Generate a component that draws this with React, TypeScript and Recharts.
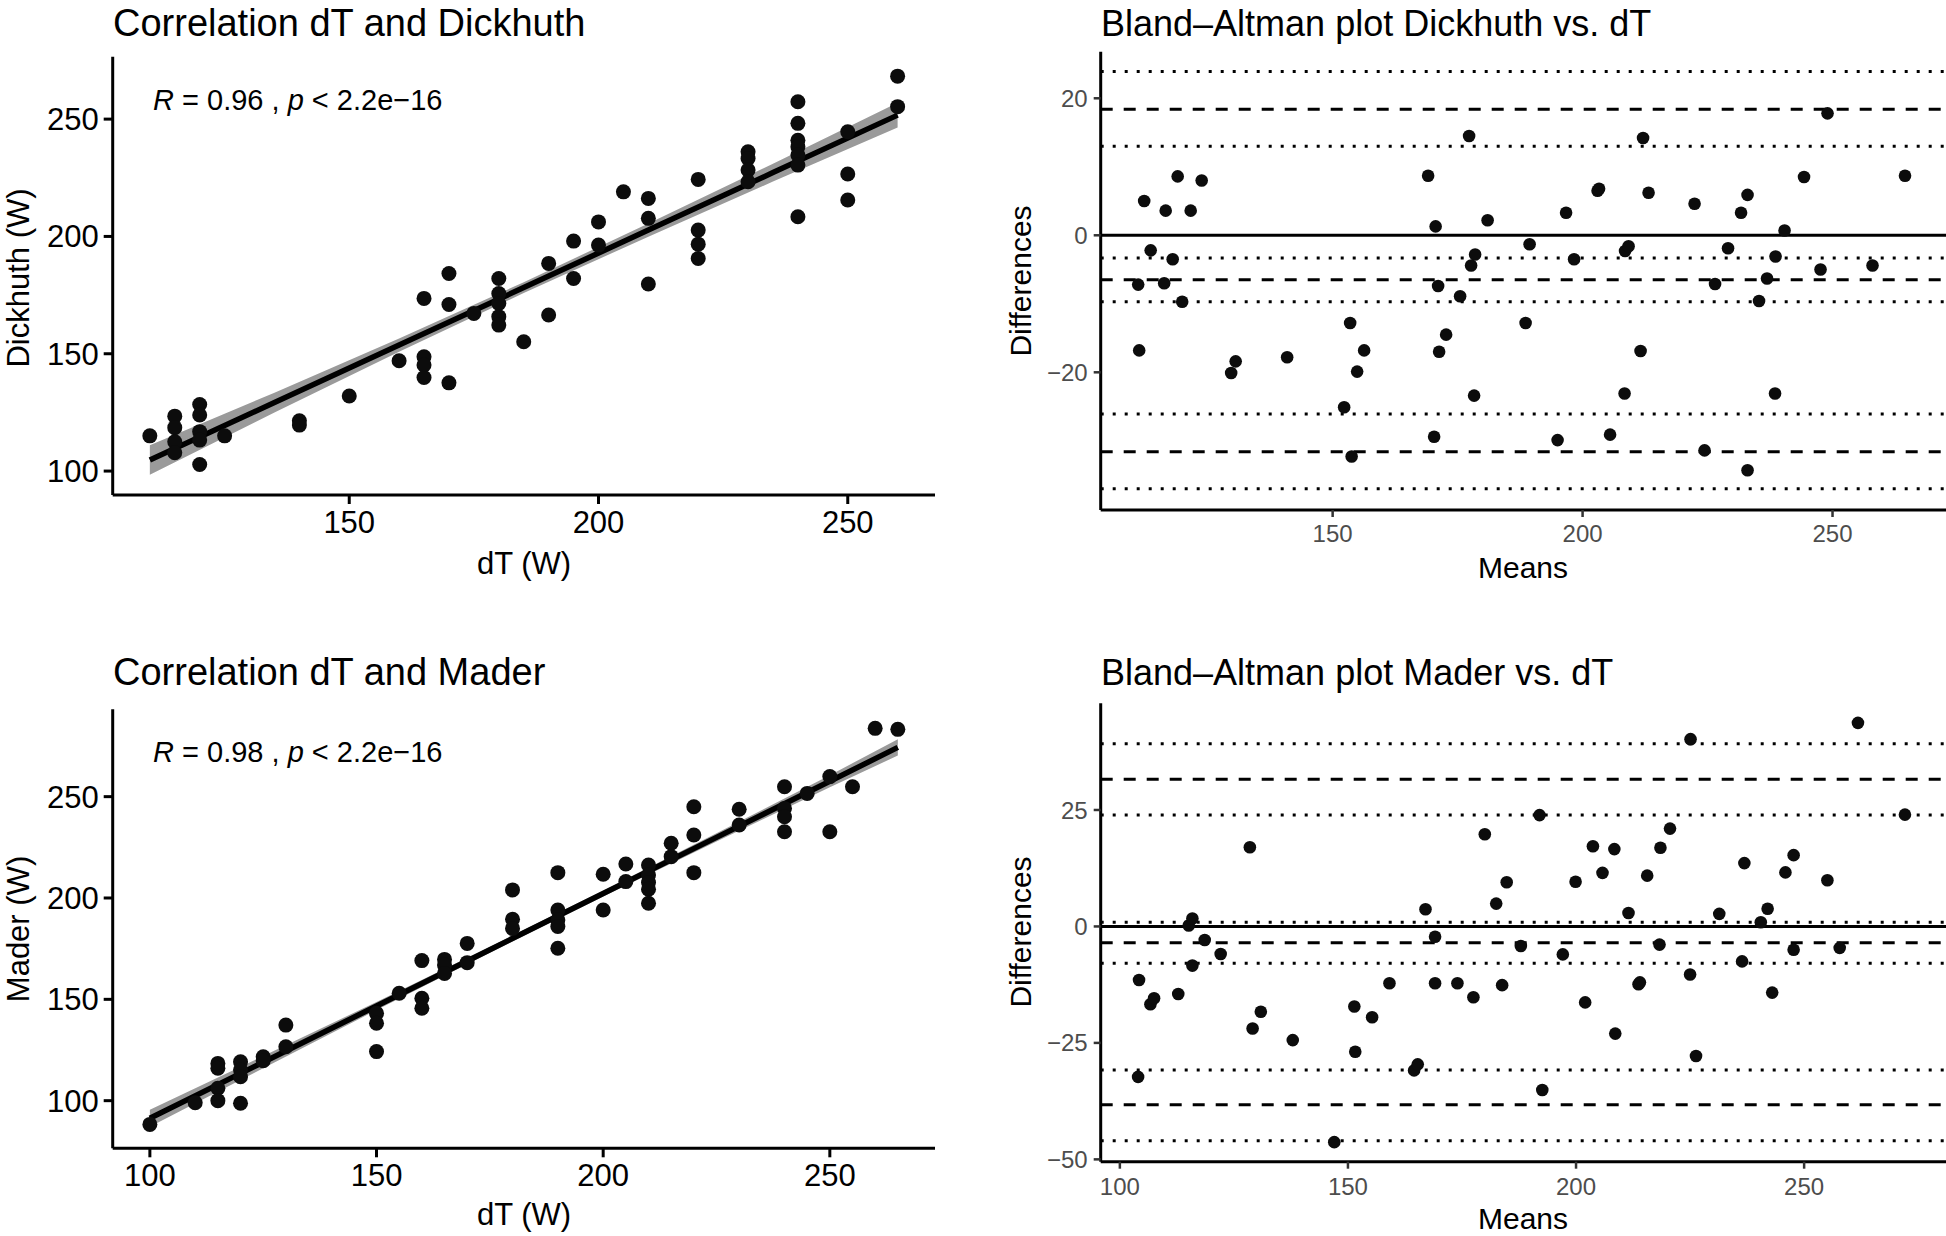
import React from 'react';
import {
  ComposedChart,
  Scatter,
  Line,
  Area,
  XAxis,
  YAxis,
  ReferenceLine,
} from 'recharts';

const FONT = '"Liberation Sans", Arial, Helvetica, sans-serif';

// ---- Correlation dT vs Dickhuth: [dT, Dickhuth] ----
const dickhuthPoints: [number, number][] = [
  [110, 115],
  [115, 123.4], [115, 118.5], [115, 112.5], [115, 107.8],
  [120, 128.4], [120, 123.9], [120, 116.8], [120, 113.2], [120, 102.8],
  [125, 115],
  [140, 121.4], [140, 119.6],
  [150, 132],
  [160, 147],
  [165, 173.6], [165, 148.7], [165, 145.2], [165, 139.9],
  [170, 184.2], [170, 171], [170, 137.6],
  [175, 167.2],
  [180, 182.1], [180, 175.7], [180, 171.4], [180, 165.8], [180, 162.2],
  [185, 155.1],
  [190, 188.5], [190, 166.5],
  [195, 198], [195, 182.1],
  [200, 206.2], [200, 196.3],
  [205, 219],
  [210, 216.2], [210, 207.7], [210, 179.7],
  [220, 224.3], [220, 202.7], [220, 196.7], [220, 190.6],
  [230, 236.1], [230, 233.2], [230, 228.3], [230, 223.3],
  [240, 257.4], [240, 248.2], [240, 241], [240, 238.2], [240, 234.7], [240, 230.4], [240, 208.4],
  [250, 244.6], [250, 226.6], [250, 215.5],
  [260, 268.3], [260, 255.3],
];
// fitted line and confidence band: [x, fit, halfWidth]
const dickhuthFit: [number, number, number][] = [
  [110, 104.7, 6.3], [135, 129.2, 4.2], [160, 153.7, 2.8], [185, 178.2, 2.3],
  [210, 202.7, 2.8], [235, 227.2, 3.8], [260, 251.7, 5.3],
];

// ---- Correlation dT vs Mader: [dT, Mader] ----
const maderPoints: [number, number][] = [
  [100, 88.3], [110, 99],
  [115, 118.4], [115, 116], [115, 106.1], [115, 100],
  [120, 119.2], [120, 115.1], [120, 111.8], [120, 98.7],
  [125, 121.7], [125, 119.7],
  [130, 137.3], [130, 126.6],
  [150, 143.1], [150, 138.2], [150, 124.2],
  [155, 153],
  [160, 169.1], [160, 150.5], [160, 145.6],
  [165, 169.7], [165, 166.9], [165, 162.8],
  [170, 177.6], [170, 168.1],
  [180, 204], [180, 189.5], [180, 185],
  [190, 212.5], [190, 194.1], [190, 189.1], [190, 185.9], [190, 175.2],
  [200, 211.7], [200, 194.1],
  [205, 216.8], [205, 208.1],
  [210, 216.3], [210, 211.3], [210, 207.6], [210, 204.3], [210, 197.4],
  [215, 227], [215, 220.4],
  [220, 245], [220, 231.1], [220, 212.5],
  [230, 243.8], [230, 236],
  [240, 254.9], [240, 244.2], [240, 240.1], [240, 232.7],
  [245, 251.6],
  [250, 259.9], [250, 232.7],
  [255, 254.9],
  [260, 283.7], [265, 283.2],
];
const maderFit: [number, number, number][] = [
  [100, 91.3, 4.2], [125, 119.0, 3.0], [150, 146.7, 2.0], [175, 174.5, 1.5],
  [200, 202.2, 1.5], [225, 229.9, 2.0], [250, 257.6, 3.0], [265, 274.3, 4.0],
];

// ---- Bland-Altman Dickhuth vs dT: [mean, difference] ----
const baDickhuthPoints: [number, number][] = [
  [112.3, 5.0], [116.6, 3.6], [119, 8.6], [121.6, 3.6], [123.8, 8.0],
  [113.6, -2.2], [118, -3.5], [111.1, -7.2], [116.3, -7.0], [119.9, -9.7],
  [111.3, -16.8], [130.6, -18.4], [129.7, -20.1], [140.9, -17.8],
  [153.5, -12.8], [156.3, -16.8], [154.9, -19.9], [152.3, -25.1], [153.8, -32.3],
  [169.1, 8.7], [170.6, 1.3], [177.3, 14.5], [181, 2.2], [178.5, -2.8], [177.7, -4.4],
  [171.1, -7.4], [175.5, -8.9], [172.7, -14.5], [171.3, -17.0], [178.3, -23.4], [170.3, -29.4],
  [188.6, -12.8], [189.4, -1.3], [196.7, 3.3], [198.3, -3.5],
  [203.0, 6.5], [203.3, 6.8], [208.5, -2.3], [209.2, -1.6],
  [212.1, 14.2], [213.2, 6.2], [211.6, -16.9], [208.4, -23.1], [205.5, -29.1], [195, -29.9],
  [222.4, 4.6], [226.5, -7.1], [224.4, -31.4], [229.1, -1.9], [231.7, 3.3], [233, 5.9],
  [233, -34.3], [235.3, -9.6], [236.9, -6.3], [238.6, -3.1], [238.5, -23.1], [240.4, 0.7],
  [244.3, 8.5], [247.6, -5.0], [249, 17.8], [258, -4.4], [264.5, 8.7],
];
const baDickhuthDashed = [18.4, -6.5, -31.6];
const baDickhuthDotted = [23.9, 13.0, -3.3, -9.7, -26.1, -37.0];

// ---- Bland-Altman Mader vs dT: [mean, difference] ----
const baMaderPoints: [number, number][] = [
  [104.2, -11.5], [104, -32.3], [106.7, -16.7], [107.5, -15.4], [112.8, -14.5],
  [115.1, 0.2], [115.9, 1.7], [115.9, -8.4], [118.6, -2.9], [122.1, -5.9],
  [128.5, 17], [129.1, -21.9], [130.9, -18.3], [137.9, -24.4], [147, -46.3],
  [151.4, -17.2], [151.6, -26.9], [155.3, -19.5], [159.1, -12.2],
  [164.5, -30.9], [165.3, -29.6], [167, 3.7], [169.1, -2.2], [169.1, -12.2],
  [174, -12.2], [177.5, -15.2], [180, 19.8], [182.5, 4.9], [183.8, -12.6], [184.8, 9.5],
  [187.9, -4.2], [192, 23.9], [192.6, -35.1], [197.1, -6.0], [199.9, 9.6],
  [202, -16.3], [203.7, 17.2], [205.8, 11.5], [208.4, 16.6], [208.6, -23],
  [211.5, 2.9], [213.7, -12.4], [214.0, -12.0], [215.6, 10.9], [218.3, -3.9],
  [218.5, 16.9], [220.6, 21.0], [225, -10.3], [225.1, 40.2], [226.3, -27.8],
  [231.4, 2.7], [236.4, -7.5], [236.9, 13.6], [240.5, 0.9], [242, 3.8],
  [243, -14.2], [245.9, 11.6], [247.7, 15.3], [247.7, -5.0], [255.1, 9.9],
  [257.8, -4.6], [261.8, 43.7], [272.1, 24.0],
];
const baMaderDashed = [31.6, -3.5, -38.3];
const baMaderDotted = [39.2, 23.9, 0.9, -7.9, -30.8, -46.0];

const toXY = (pts: [number, number][]) => pts.map(([x, y]) => ({ x, y }));
const toFit = (rows: [number, number, number][]) =>
  rows.map(([x, fit, hw]) => ({ x, fit, band: [fit - hw, fit + hw] }));

const fmt = (v: number) => (v < 0 ? `\u2212${Math.abs(v)}` : `${v}`);

const dot = (r: number) => (props: any) =>
  props.cx == null ? <g /> : <circle cx={props.cx} cy={props.cy} r={r} fill="#0c0c0c" />;

interface CorrProps {
  left: number;
  top: number;
  width: number;
  height: number;
  margin: { top: number; right: number; bottom: number; left: number };
  points: [number, number][];
  fit: [number, number, number][];
  xDomain: [number, number];
  yDomain: [number, number];
  xTicks: number[];
  yTicks: number[];
}

const CorrPanel: React.FC<CorrProps> = ({
  left, top, width, height, margin, points, fit, xDomain, yDomain, xTicks, yTicks,
}) => {
  const tick = { fill: '#000', fontSize: 31, fontFamily: FONT };
  const line = { stroke: '#000', strokeWidth: 3 };
  return (
    <div style={{ position: 'absolute', left, top }}>
      <ComposedChart width={width} height={height} data={toFit(fit)} margin={margin}>
        <XAxis
          type="number"
          dataKey="x"
          domain={xDomain}
          ticks={xTicks}
          allowDataOverflow
          height={60}
          tick={tick}
          tickSize={9}
          tickMargin={7}
          axisLine={line}
          tickLine={line}
        />
        <YAxis
          type="number"
          domain={yDomain}
          ticks={yTicks}
          allowDataOverflow
          width={60}
          tick={tick}
          tickSize={9}
          tickMargin={5}
          axisLine={line}
          tickLine={line}
        />
        <Area
          type="linear"
          dataKey="band"
          fill="#9a9a9a"
          fillOpacity={1}
          stroke="none"
          isAnimationActive={false}
        />
        <Line
          type="linear"
          dataKey="fit"
          stroke="#000"
          strokeWidth={5.5}
          dot={false}
          isAnimationActive={false}
        />
        <Scatter data={toXY(points)} dataKey="y" shape={dot(7.5)} isAnimationActive={false} />
      </ComposedChart>
    </div>
  );
};

interface BAProps {
  left: number;
  top: number;
  width: number;
  height: number;
  margin: { top: number; right: number; bottom: number; left: number };
  points: [number, number][];
  dashed: number[];
  dotted: number[];
  xDomain: [number, number];
  yDomain: [number, number];
  xTicks: number[];
  yTicks: number[];
  xTickMargin: number;
}

const BAPanel: React.FC<BAProps> = ({
  left, top, width, height, margin, points, dashed, dotted, xDomain, yDomain, xTicks, yTicks, xTickMargin,
}) => {
  const tick = { fill: '#4d4d4d', fontSize: 24, fontFamily: FONT };
  const axis = { stroke: '#000', strokeWidth: 3 };
  const tl = { stroke: '#333', strokeWidth: 2.5 };
  return (
    <div style={{ position: 'absolute', left, top }}>
      <ComposedChart width={width} height={height} margin={margin}>
        <XAxis
          type="number"
          dataKey="x"
          domain={xDomain}
          ticks={xTicks}
          allowDataOverflow
          height={60}
          tick={tick}
          tickSize={7}
          tickMargin={xTickMargin}
          axisLine={axis}
          tickLine={tl}
        />
        <YAxis
          type="number"
          domain={yDomain}
          ticks={yTicks}
          allowDataOverflow
          width={60}
          tick={tick}
          tickSize={7}
          tickMargin={6}
          tickFormatter={fmt}
          axisLine={axis}
          tickLine={tl}
        />
        {dotted.map((v, i) => (
          <ReferenceLine key={`dot-${i}`} y={v} stroke="#000" strokeWidth={3} strokeDasharray="3 9" />
        ))}
        {dashed.map((v, i) => (
          <ReferenceLine key={`dash-${i}`} y={v} stroke="#000" strokeWidth={3} strokeDasharray="12 11" />
        ))}
        <ReferenceLine y={0} stroke="#000" strokeWidth={3} />
        <Scatter data={toXY(points)} dataKey="y" shape={dot(6.3)} isAnimationActive={false} />
      </ComposedChart>
    </div>
  );
};

const RLabel: React.FC<{ x: number; y: number; r: string }> = ({ x, y, r }) => (
  <text x={x} y={y} fontSize={29} fontFamily={FONT} fill="#000">
    <tspan fontStyle="italic">R</tspan>
    {` = ${r} , `}
    <tspan fontStyle="italic">p</tspan>
    {' < 2.2e\u221216'}
  </text>
);

export default function App() {
  const leftTitle = 38;
  const rightTitle = 36;
  return (
    <div
      style={{
        position: 'absolute',
        left: 0,
        top: 0,
        width: 1946,
        height: 1236,
        background: '#fff',
        overflow: 'hidden',
        fontFamily: FONT,
      }}
    >
      <CorrPanel
        left={0}
        top={0}
        width={960}
        height={620}
        margin={{ top: 56.7, right: 25, bottom: 65, left: 52.7 }}
        points={dickhuthPoints}
        fit={dickhuthFit}
        xDomain={[102.55, 267.5]}
        yDomain={[89.8, 276.6]}
        xTicks={[150, 200, 250]}
        yTicks={[100, 150, 200, 250]}
      />
      <CorrPanel
        left={0}
        top={650}
        width={960}
        height={586}
        margin={{ top: 59.3, right: 25, bottom: 27.7, left: 52.7 }}
        points={maderPoints}
        fit={maderFit}
        xDomain={[91.8, 273.2]}
        yDomain={[76.5, 293.1]}
        xTicks={[100, 150, 200, 250]}
        yTicks={[100, 150, 200, 250]}
      />
      <BAPanel
        left={1000}
        top={0}
        width={946}
        height={620}
        margin={{ top: 51.7, right: 0, bottom: 50, left: 40.7 }}
        points={baDickhuthPoints}
        dashed={baDickhuthDashed}
        dotted={baDickhuthDotted}
        xDomain={[103.6, 272.7]}
        yDomain={[-40.1, 26.8]}
        xTicks={[150, 200, 250]}
        yTicks={[-20, 0, 20]}
        xTickMargin={8}
      />
      <BAPanel
        left={1000}
        top={650}
        width={946}
        height={586}
        margin={{ top: 53.3, right: 0, bottom: 14.3, left: 40.7 }}
        points={baMaderPoints}
        dashed={baMaderDashed}
        dotted={baMaderDotted}
        xDomain={[95.8, 281.1]}
        yDomain={[-50.5, 47.9]}
        xTicks={[100, 150, 200, 250]}
        yTicks={[-50, -25, 0, 25]}
        xTickMargin={9}
      />
      <svg
        width={1946}
        height={1236}
        style={{ position: 'absolute', left: 0, top: 0, pointerEvents: 'none' }}
      >
        <g fontFamily={FONT} fill="#000">
          <text x={113} y={36} fontSize={leftTitle}>Correlation dT and Dickhuth</text>
          <text x={1101} y={36} fontSize={rightTitle}>Bland–Altman plot Dickhuth vs. dT</text>
          <text x={113} y={685} fontSize={leftTitle}>Correlation dT and Mader</text>
          <text x={1101} y={685} fontSize={rightTitle}>Bland–Altman plot Mader vs. dT</text>

          <RLabel x={153} y={110} r="0.96" />
          <RLabel x={153} y={762} r="0.98" />

          <text x={524} y={574} fontSize={31} textAnchor="middle">dT (W)</text>
          <text x={524} y={1225} fontSize={31} textAnchor="middle">dT (W)</text>
          <text x={1523} y={578} fontSize={30} textAnchor="middle">Means</text>
          <text x={1523} y={1229} fontSize={30} textAnchor="middle">Means</text>

          <text x={29} y={278} fontSize={31} textAnchor="middle" transform="rotate(-90 29 278)">Dickhuth (W)</text>
          <text x={29} y={929} fontSize={31} textAnchor="middle" transform="rotate(-90 29 929)">Mader (W)</text>
          <text x={1031} y={281} fontSize={30} textAnchor="middle" transform="rotate(-90 1031 281)">Differences</text>
          <text x={1031} y={932} fontSize={30} textAnchor="middle" transform="rotate(-90 1031 932)">Differences</text>
        </g>
      </svg>
    </div>
  );
}
